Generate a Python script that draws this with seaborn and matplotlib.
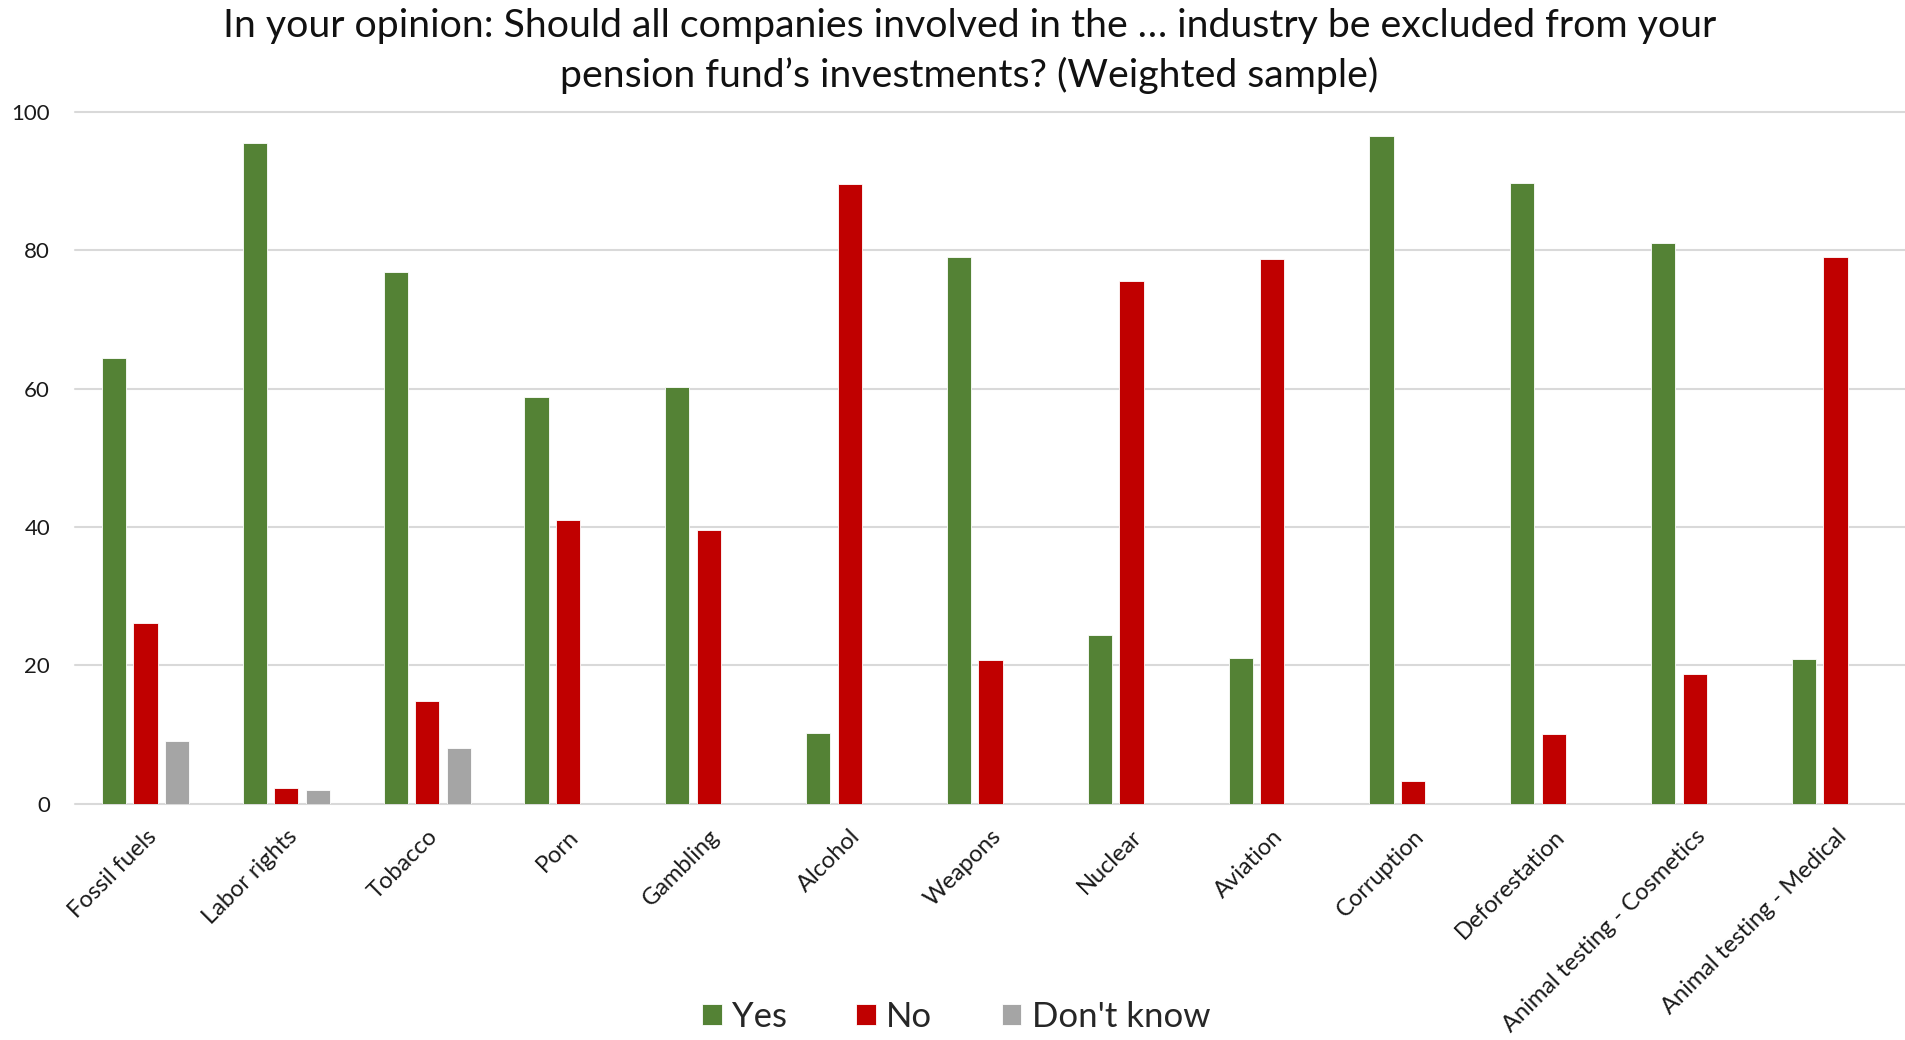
import matplotlib
matplotlib.use("Agg")
import matplotlib.pyplot as plt
import seaborn as sns
import pandas as pd
import numpy as np

industries = ["Fossil fuels", "Labor rights", "Tobacco", "Porn", "Gambling", "Alcohol",
              "Weapons", "Nuclear", "Aviation", "Corruption", "Deforestation",
              "Animal testing - Cosmetics", "Animal testing - Medical"]
yes_vals = [64.4, 95.5, 76.8, 58.8, 60.2, 10.2, 79.0, 24.3, 21.0, 96.6, 89.8, 81.1, 20.9]
no_vals = [26.1, 2.2, 14.8, 41.0, 39.6, 89.6, 20.8, 75.6, 78.8, 3.2, 10.0, 18.8, 79.0]
dont_know_vals = [9.0, 2.0, 8.0, np.nan, np.nan, np.nan, np.nan, np.nan, np.nan,
                  np.nan, np.nan, np.nan, np.nan]
responses = ["Yes", "No", "Don't know"]
colors = ["#548235", "#C00000", "#A5A5A5"]
y_ticks = [0, 20, 40, 60, 80, 100]
title = ("In your opinion: Should all companies involved in the \u2026 industry be excluded from your\n"
         "pension fund\u2019s investments? (Weighted sample)")

rows = []
for resp, vals in zip(responses, [yes_vals, no_vals, dont_know_vals]):
    for ind, v in zip(industries, vals):
        rows.append({"Industry": ind, "Response": resp, "Value": v})
df = pd.DataFrame(rows)

sns.set_theme(style="white")
plt.rcParams["font.family"] = ["Lato", "DejaVu Sans"]

fig = plt.figure(figsize=(19.06, 10.40), dpi=100)
ax = fig.add_axes([0.0394, 0.2274, 0.9606, 0.6649])

sns.barplot(data=df, x="Industry", y="Value", hue="Response", order=industries,
            hue_order=responses, palette=colors, saturation=1, width=0.672, gap=0.232,
            errorbar=None, ax=ax, edgecolor="white", linewidth=0.6)

ax.set_ylim(0, 100)
ax.set_xlim(-0.5, len(industries) - 0.5)
ax.set_yticks(y_ticks)
ax.set_yticklabels([str(t) for t in y_ticks], fontsize=16, color="#1a1a1a")
ax.yaxis.grid(True, color="#D9D9D9", linewidth=1.5, clip_on=False)
ax.set_axisbelow(True)
for side in ["top", "right", "left", "bottom"]:
    ax.spines[side].set_visible(False)
ax.tick_params(axis="y", length=0, pad=18)
ax.tick_params(axis="x", length=0, pad=16)
ax.set_xlabel("")
ax.set_ylabel("")
ax.set_xticks(range(len(industries)))
ax.set_xticklabels(industries, rotation=45, ha="right", rotation_mode="anchor",
                   fontsize=17, color="#1a1a1a")

fig.suptitle(title, fontsize=28.3, color="#111111", x=0.5085, y=0.992, va="top",
             linespacing=1.4)

handles, labels = ax.get_legend_handles_labels()
ax.get_legend().remove()
fig.legend(handles, labels, loc="center", bbox_to_anchor=(0.5017, 0.022), ncol=3,
           frameon=False, fontsize=25, handlelength=0.56, handleheight=0.56,
           handletextpad=0.3, columnspacing=2.0)

fig.savefig("out.png", dpi=100)
